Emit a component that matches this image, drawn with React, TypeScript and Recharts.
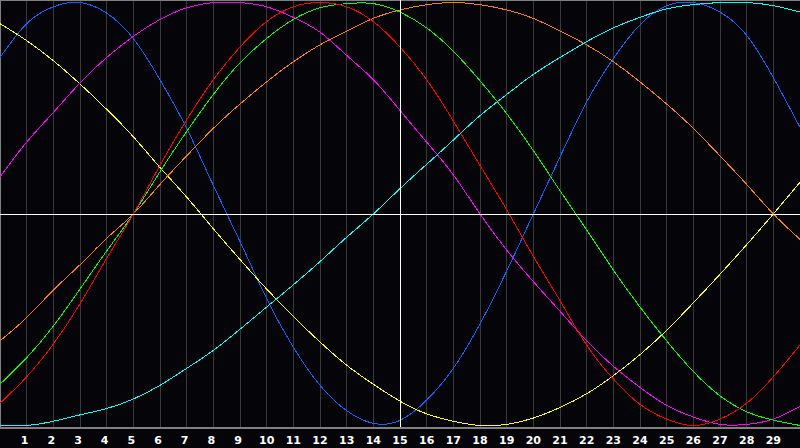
import React from "react";
import { LineChart, Line, XAxis, YAxis, CartesianGrid, ReferenceLine } from "recharts";

const xValues = [0, 1, 2, 3, 4, 5, 6, 7, 8, 9, 10, 11, 12, 13, 14, 15, 16, 17, 18, 19, 20, 21, 22, 23, 24, 25, 26, 27, 28, 29, 30];
const xTicks = [1, 2, 3, 4, 5, 6, 7, 8, 9, 10, 11, 12, 13, 14, 15, 16, 17, 18, 19, 20, 21, 22, 23, 24, 25, 26, 27, 28, 29];

const blue = [0.74, 0.9, 0.98, 1.0, 0.95, 0.83, 0.635, 0.405, 0.135, -0.13, -0.4, -0.63, -0.81, -0.93, -0.99, -0.976, -0.88, -0.73, -0.52, -0.27, 0.0, 0.27, 0.53, 0.735, 0.895, 0.985, 1.0, 0.955, 0.845, 0.645, 0.41];
const yellow = [0.9, 0.82, 0.725, 0.615, 0.495, 0.365, 0.22, 0.08, -0.07, -0.215, -0.355, -0.485, -0.605, -0.715, -0.805, -0.885, -0.945, -0.98, -1.0, -0.995, -0.965, -0.915, -0.85, -0.765, -0.665, -0.55, -0.42, -0.285, -0.145, 0.0, 0.15];
const magenta = [0.175, 0.34, 0.48, 0.62, 0.74, 0.84, 0.92, 0.975, 1.0, 1.0, 0.98, 0.93, 0.86, 0.75, 0.635, 0.49, 0.34, 0.185, 0.0, -0.17, -0.32, -0.46, -0.6, -0.72, -0.82, -0.905, -0.96, -0.995, -0.995, -0.97, -0.91];
const red = [-0.895, -0.77, -0.615, -0.425, -0.21, 0.0, 0.23, 0.445, 0.635, 0.79, 0.91, 0.98, 1.0, 0.98, 0.91, 0.79, 0.635, 0.44, 0.23, 0.02, -0.2, -0.41, -0.62, -0.78, -0.9, -0.97, -1.0, -0.97, -0.895, -0.77, -0.62];
const green = [-0.805, -0.68, -0.53, -0.355, -0.175, 0.0, 0.2, 0.39, 0.565, 0.715, 0.83, 0.92, 0.975, 0.995, 0.995, 0.955, 0.88, 0.77, 0.63, 0.475, 0.3, 0.11, -0.075, -0.265, -0.44, -0.6, -0.745, -0.86, -0.935, -0.975, -1.0];
const orange = [-0.6, -0.49, -0.36, -0.24, -0.115, 0.0, 0.14, 0.275, 0.405, 0.52, 0.625, 0.72, 0.8, 0.865, 0.925, 0.965, 0.99, 1.0, 0.99, 0.965, 0.925, 0.865, 0.8, 0.72, 0.625, 0.52, 0.405, 0.275, 0.14, 0.0, -0.12];
const cyan = [-1.0, -1.0, -0.98, -0.95, -0.92, -0.875, -0.81, -0.73, -0.645, -0.545, -0.44, -0.335, -0.225, -0.11, 0.0, 0.12, 0.235, 0.35, 0.465, 0.565, 0.66, 0.74, 0.815, 0.88, 0.93, 0.97, 0.99, 1.0, 1.0, 0.985, 0.955];

const seriesColors = {
  blue: "#0a64ff",
  yellow: "#ffff00",
  magenta: "#ff00ff",
  red: "#ff0000",
  green: "#00ff00",
  orange: "#ff8000",
  cyan: "#00ffff",
};

const rows = xValues.map((x, i) => ({
  x,
  blue: blue[i],
  yellow: yellow[i],
  magenta: magenta[i],
  red: red[i],
  green: green[i],
  orange: orange[i],
  cyan: cyan[i],
}));

const seriesOrder = ["blue", "yellow", "magenta", "orange", "green", "red", "cyan"] as const;

const Tick = (props: any) => {
  const { x, y, payload } = props;
  const v = payload.value as number;
  const shift = v < 10 ? -2 : 0;
  return (
    <text
      x={x + shift}
      y={y}
      dy="0.71em"
      textAnchor="middle"
      fill="#ffffff"
      fontSize={11}
      fontWeight="bold"
      fontFamily="DejaVu Sans, Verdana, sans-serif"
    >
      {v}
    </text>
  );
};

export default function App() {
  return (
    <div style={{ width: 800, height: 448, background: "#050509" }}>
      <style>{`body{margin:0;background:#050509;}`}</style>
      <LineChart
        width={800}
        height={448}
        data={rows}
        margin={{ top: 0, right: 0, bottom: 0, left: 0 }}
        style={{ background: "#050509" }}
      >
        <CartesianGrid
          vertical={true}
          horizontal={false}
          stroke="#3a3a3a"
          strokeWidth={1}
          shapeRendering="crispEdges"
        />
        <XAxis
          dataKey="x"
          type="number"
          domain={[0, 30]}
          ticks={xTicks}
          interval={0}
          height={20}
          tickLine={false}
          axisLine={{ stroke: "#808080", strokeWidth: 2, shapeRendering: "crispEdges" }}
          tick={<Tick />}
          allowDataOverflow
        />
        <YAxis hide type="number" domain={[-1.012, 1.012]} allowDataOverflow />
        <ReferenceLine x={0} stroke="#808080" strokeWidth={2} shapeRendering="crispEdges" />
        <ReferenceLine y={1.012} stroke="#808080" strokeWidth={2} shapeRendering="crispEdges" />
        {seriesOrder.map((k) => (
          <Line
            key={k}
            dataKey={k}
            type="natural"
            stroke={seriesColors[k]}
            strokeWidth={1}
            dot={false}
            activeDot={false}
            isAnimationActive={false}
            shapeRendering="crispEdges"
          />
        ))}
        <ReferenceLine x={15} stroke="#ffffff" strokeWidth={1} shapeRendering="crispEdges" />
        <ReferenceLine y={0} stroke="#ffffff" strokeWidth={1} shapeRendering="crispEdges" />
      </LineChart>
    </div>
  );
}
